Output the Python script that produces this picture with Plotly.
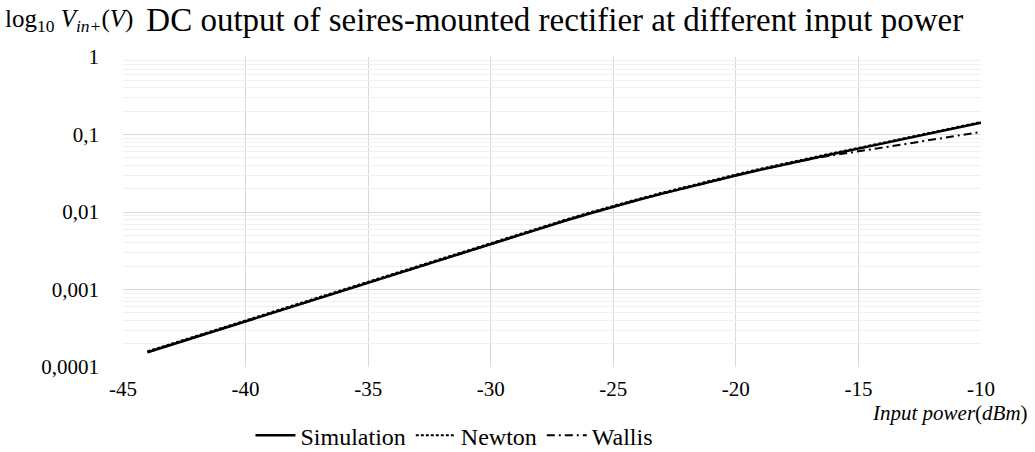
import plotly.graph_objects as go

# Input power (dBm)
input_power = [-44, -43, -42, -41, -40, -39, -38, -37, -36, -35, -34, -33, -32, -31, -30,
               -29, -28, -27, -26, -25, -24, -23, -22, -21, -20, -19, -18, -17, -16, -15,
               -14, -13, -12, -11, -10]

# DC output voltage (V)
simulation = [1.549e-4, 1.950e-4, 2.455e-4, 3.090e-4, 3.890e-4, 4.898e-4, 6.166e-4, 7.762e-4,
              9.772e-4, 1.230e-3, 1.549e-3, 1.950e-3, 2.455e-3, 3.090e-3, 3.890e-3, 4.875e-3,
              6.109e-3, 7.656e-3, 9.506e-3, 1.169e-2, 1.426e-2, 1.726e-2, 2.075e-2, 2.483e-2,
              2.958e-2, 3.508e-2, 4.130e-2, 4.842e-2, 5.649e-2, 6.577e-2, 7.674e-2, 8.954e-2,
              0.1045, 0.1219, 0.1422]
newton = [1.595e-4, 2.009e-4, 2.529e-4, 3.183e-4, 4.007e-4, 5.045e-4, 6.351e-4, 7.995e-4,
          1.0065e-3, 1.267e-3, 1.595e-3, 2.009e-3, 2.529e-3, 3.183e-3, 4.007e-3, 5.021e-3,
          6.292e-3, 7.886e-3, 9.791e-3, 1.204e-2, 1.469e-2, 1.778e-2, 2.137e-2, 2.557e-2,
          3.047e-2, 3.613e-2, 4.254e-2, 4.987e-2, 5.790e-2, 6.708e-2, 7.827e-2, 9.133e-2,
          0.1066, 0.1243, 0.1450]
wallis = [1.549e-4, 1.950e-4, 2.455e-4, 3.090e-4, 3.890e-4, 4.898e-4, 6.166e-4, 7.762e-4,
          9.772e-4, 1.230e-3, 1.549e-3, 1.950e-3, 2.455e-3, 3.090e-3, 3.890e-3, 4.875e-3,
          6.109e-3, 7.656e-3, 9.506e-3, 1.169e-2, 1.426e-2, 1.726e-2, 2.075e-2, 2.483e-2,
          2.958e-2, 3.508e-2, 4.130e-2, 4.800e-2, 5.430e-2, 6.030e-2, 6.780e-2, 7.620e-2,
          8.570e-2, 9.620e-2, 0.1080]

y_tickvals = [0.0001, 0.001, 0.01, 0.1, 1]
y_ticktext = ["0,0001", "0,001", "0,01", "0,1", "1"]
x_tickvals = [-45, -40, -35, -30, -25, -20, -15, -10]
x_ticktext = ["-45", "-40", "-35", "-30", "-25", "-20", "-15", "-10"]
minor_vals = [m * 10 ** e for e in range(-4, 0) for m in range(2, 10)]

FONT = "Liberation Serif, Times New Roman, serif"

fig = go.Figure()
fig.add_trace(go.Scatter(x=input_power, y=simulation, mode="lines", name="Simulation",
                         line=dict(color="black", width=2.5, dash="solid")))
fig.add_trace(go.Scatter(x=input_power, y=newton, mode="lines", name="Newton",
                         line=dict(color="black", width=2, dash="3px,2px")))
fig.add_trace(go.Scatter(x=input_power, y=wallis, mode="lines", name="Wallis",
                         line=dict(color="black", width=2, dash="8px,4px,2px,4px")))
# invisible trace to host the minor grid axis
fig.add_trace(go.Scatter(x=[-45], y=[0.001], yaxis="y2", mode="lines", showlegend=False,
                         hoverinfo="skip", line=dict(width=0)))

fig.update_layout(
    width=1035, height=452,
    margin=dict(l=123, r=54, t=57, b=85, autoexpand=False),
    paper_bgcolor="white", plot_bgcolor="white",
    font=dict(family=FONT, color="black", size=21),
    title=dict(text="DC output of seires-mounted rectifier at different input power",
               xref="container", x=0.536, xanchor="center",
               yref="container", y=0.956, yanchor="middle",
               font=dict(family=FONT, size=33, color="black")),
    xaxis=dict(range=[-45, -10], tickvals=x_tickvals, ticktext=x_ticktext, showgrid=True,
               gridcolor="#d9d9d9", gridwidth=1, zeroline=False, showline=False, ticks="",
               tickfont=dict(family=FONT, size=21), ticklabelstandoff=7),
    yaxis=dict(type="log", range=[-4, 0], tickvals=y_tickvals, ticktext=y_ticktext,
               showgrid=True, gridcolor="#d9d9d9", gridwidth=1, zeroline=False,
               showline=False, ticks="", tickfont=dict(family=FONT, size=21),
               ticklabelstandoff=23),
    yaxis2=dict(type="log", range=[-4, 0], overlaying="y", tickvals=minor_vals,
                showticklabels=False, showgrid=True, gridcolor="#f0f0f0", gridwidth=1,
                zeroline=False, showline=False, ticks=""),
    legend=dict(orientation="h", xref="container", x=0.242, xanchor="left",
                yref="container", y=0.036, yanchor="middle",
                font=dict(family=FONT, size=24), itemwidth=40, tracegroupgap=0,
                bgcolor="rgba(0,0,0,0)"),
    showlegend=True,
)

fig.add_annotation(text="log<sub>10</sub> <i>V<sub>in+</sub></i>(<i>V</i>)",
                   xref="paper", yref="paper", x=-0.140, xanchor="left",
                   y=1.118, yanchor="middle", showarrow=False,
                   font=dict(family=FONT, size=25, color="black"))
fig.add_annotation(text="<i>Input power</i>(<i>dBm</i>)",
                   xref="paper", yref="paper", x=1.057, xanchor="right",
                   y=-0.149, yanchor="middle", showarrow=False,
                   font=dict(family=FONT, size=21, color="black"))

fig.write_html("out.html", config={"displayModeBar": False},
               post_script="document.body.style.margin='0';")
